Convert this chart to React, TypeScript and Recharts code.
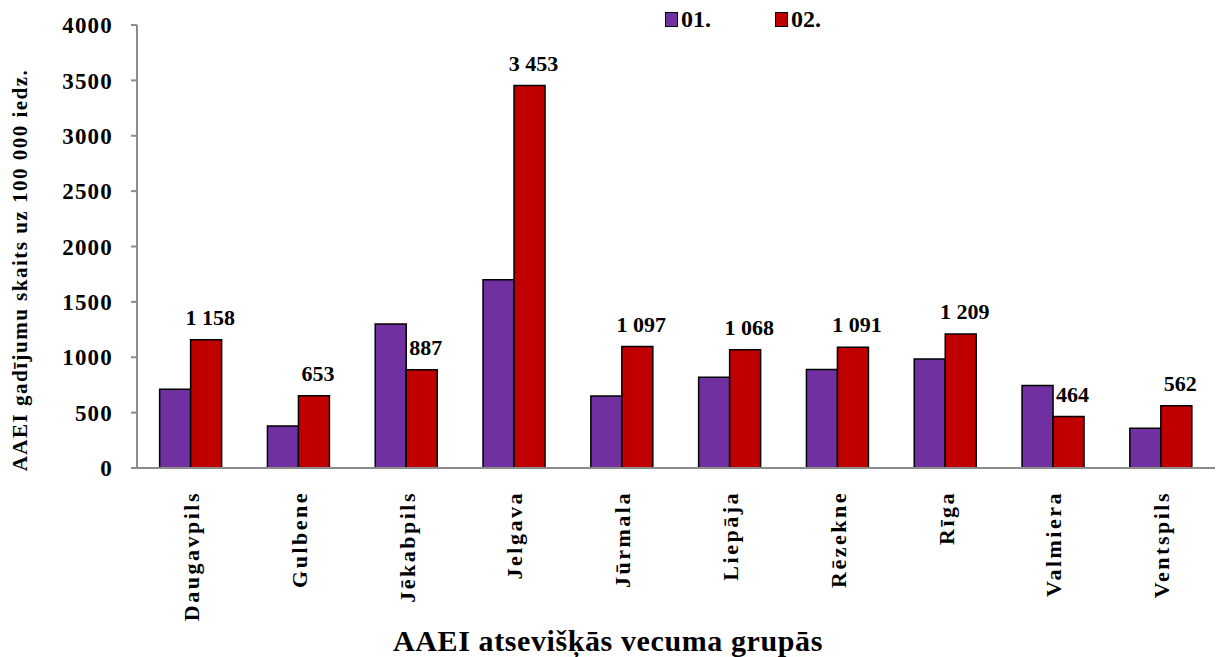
import { Bar, BarChart, LabelList, XAxis, YAxis, Label } from 'recharts'

const cities = ['Daugavpils', 'Gulbene', 'Jēkabpils', 'Jelgava', 'Jūrmala', 'Liepāja', 'Rēzekne', 'Rīga', 'Valmiera', 'Ventspils']
const series01 = [710, 380, 1300, 1700, 650, 820, 890, 985, 745, 358]
const series02 = [1158, 653, 887, 3453, 1097, 1068, 1091, 1209, 464, 562]
const yTicks = [0, 500, 1000, 1500, 2000, 2500, 3000, 3500, 4000]

const data = cities.map((city, i) => ({ city, s01: series01[i], s02: series02[i] }))

const FONT = "'Liberation Serif', 'Times New Roman', Tinos, serif"
const PURPLE = '#7030A0'
const RED = '#C00000'

const fmt = (v: number) => String(v).replace(/\B(?=(\d{3})+(?!\d))/g, ' ')

function CityTick({ x, y, payload }: any) {
  return (
    <text
      transform={`translate(${x + 8},${y + 15}) rotate(-90)`}
      textAnchor="end"
      style={{ fontFamily: FONT, fontWeight: 700, fontSize: 22, letterSpacing: 2.5 }}
      fill="#000"
    >
      {payload.value}
    </text>
  )
}

function ValueLabel({ x, y, width, value }: any) {
  return (
    <text x={x + width / 2 + 4} y={y - 15} textAnchor="middle" style={{ fontFamily: FONT, fontWeight: 700, fontSize: 22 }} fill="#000">
      {fmt(value)}
    </text>
  )
}

function LegendBox() {
  const item = (color: string, text: string) => (
    <span style={{ display: 'inline-flex', alignItems: 'center', marginRight: 64 }}>
      <span style={{ width: 11, height: 13, background: color, border: '1.5px solid #000', display: 'inline-block', marginRight: 3 }} />
      <span style={{ fontFamily: FONT, fontWeight: 'bold', fontSize: 24, color: '#000' }}>{text}</span>
    </span>
  )
  return (
    <div style={{ position: 'absolute', top: 6, left: 665, display: 'flex' }}>
      {item(PURPLE, '01.')}
      {item(RED, '02.')}
    </div>
  )
}

export default function App() {
  return (
    <div style={{ position: 'absolute', left: 0, top: 0, width: 1219, height: 657, background: '#fff' }}>
      <BarChart width={1219} height={657} data={data} margin={{ top: 25, right: 4, bottom: 0, left: 40 }} barGap={0} barCategoryGap="21%">
        <XAxis dataKey="city" interval={0} height={189} tickLine={false} axisLine={{ stroke: '#8c8c8c', strokeWidth: 2 }} tick={<CityTick />}>
          <Label
            content={() => (
              <text x={608} y={651} textAnchor="middle" style={{ fontFamily: FONT, fontWeight: 700, fontSize: 30, letterSpacing: 0.6 }} fill="#000">
                AAEI atsevišķās vecuma grupās
              </text>
            )}
          />
        </XAxis>
        <YAxis
          width={97}
          domain={[0, 4000]}
          ticks={yTicks}
          interval={0}
          tickSize={6}
          tickMargin={18}
          tickLine={{ stroke: '#8c8c8c', strokeWidth: 2 }}
          axisLine={{ stroke: '#8c8c8c', strokeWidth: 2 }}
          tick={{ fill: '#000', fontFamily: FONT, fontWeight: 700, fontSize: 23, letterSpacing: 1.2 }}
        >
          <Label
            content={() => (
              <text transform="translate(27,270) rotate(-90)" textAnchor="middle" style={{ fontFamily: FONT, fontWeight: 700, fontSize: 21, letterSpacing: 1.5 }} fill="#000">
                AAEI gadījumu skaits uz 100 000 iedz.
              </text>
            )}
          />
        </YAxis>
        <Bar dataKey="s01" name="01." fill={PURPLE} stroke="#000" strokeWidth={1.5} isAnimationActive={false} />
        <Bar dataKey="s02" name="02." fill={RED} stroke="#000" strokeWidth={1.5} isAnimationActive={false}>
          <LabelList dataKey="s02" content={<ValueLabel />} />
        </Bar>
      </BarChart>
      <LegendBox />
    </div>
  )
}
